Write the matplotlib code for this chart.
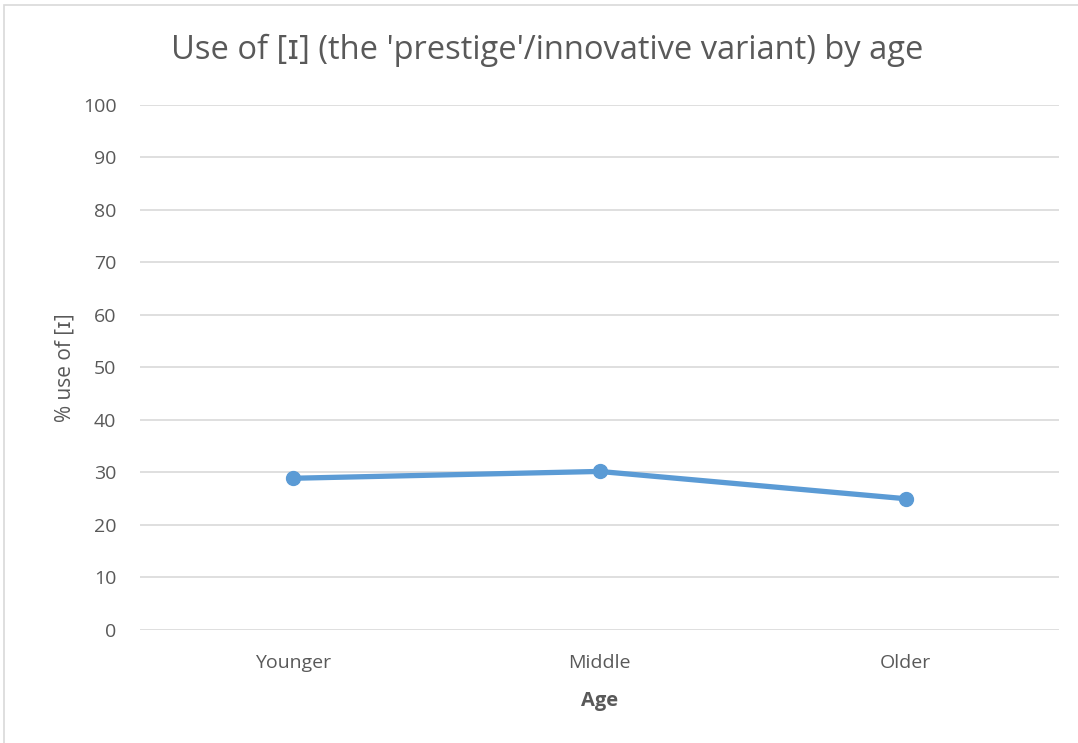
import numpy as np
import matplotlib.pyplot as plt
from matplotlib.patches import Rectangle

plt.rcParams['font.family'] = ['Open Sans', 'DejaVu Sans']

# share of the [ɪ] variant per age group
age_groups = ['Younger', 'Middle', 'Older']
pct_use = [28.9, 30.2, 25.0]
y_ticks = list(range(0, 101, 10))

text_col = '#595959'
grid_col = '#d9d9d9'
line_col = '#5b9bd5'

fig = plt.figure(figsize=(10.78, 7.43), dpi=100)
ax = fig.add_axes([0.1299, 0.1521, 0.8525, 0.7066])

x = np.arange(len(age_groups)) + 0.5
ax.plot(x, pct_use, color=line_col, lw=3.8, marker='o', ms=10,
        solid_capstyle='round', zorder=3)

ax.set_xlim(0, len(age_groups))
ax.set_ylim(0, 100)
ax.set_yticks(y_ticks)
ax.set_xticks(x)
ax.set_xticklabels(age_groups)
ax.tick_params(axis='both', length=0, labelsize=14, colors=text_col)
ax.tick_params(axis='y', pad=17)
ax.tick_params(axis='x', pad=17)
ax.grid(axis='y', color=grid_col, lw=1.2)
ax.set_axisbelow(True)
for s in ax.spines.values():
    s.set_visible(False)

ax.set_ylabel('% use of [ɪ]', fontsize=15, color=text_col, labelpad=5)
ax.set_xlabel('Age', fontsize=14.5, color=text_col, fontweight='bold', labelpad=14)
fig.text(0.508, 0.932, "Use of [ɪ] (the 'prestige'/innovative variant) by age",
         ha='center', va='center', fontsize=23.5, color=text_col)

# thin chart-area frame
fig.patches.append(Rectangle((4 / 1078, -0.05), 1.2, 1.05 - 5 / 743,
                             transform=fig.transFigure, fill=False,
                             ec=grid_col, lw=1.2))

fig.savefig('out.png', dpi=100)
